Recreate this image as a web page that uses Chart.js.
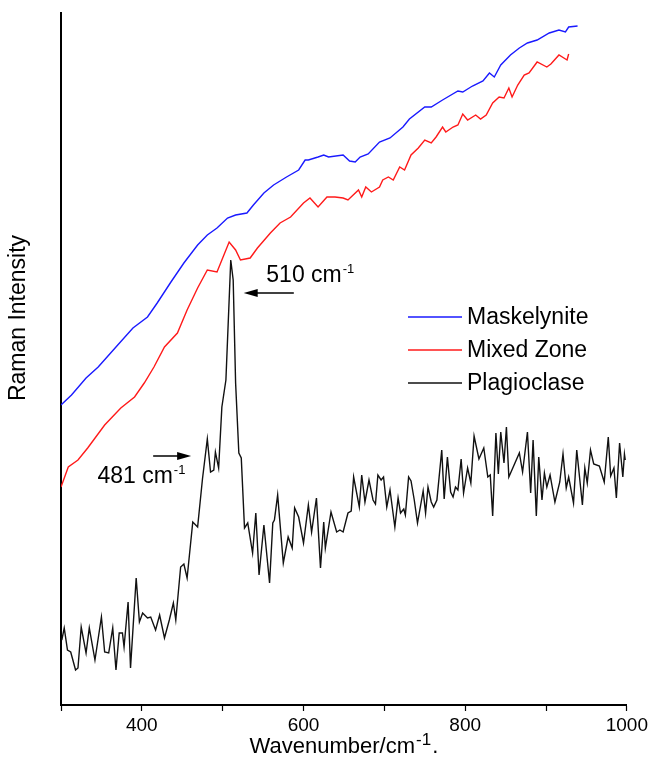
<!DOCTYPE html>
<html>
<head>
<meta charset="utf-8">
<title>Raman spectra</title>
<script src="https://cdn.jsdelivr.net/npm/chart.js@4.4.1/dist/chart.umd.min.js"></script>
<style>
  html, body { margin: 0; padding: 0; background: #fff; }
  #wrap { width: 651px; height: 774px; }
</style>
</head>
<body>
<div id="wrap"><canvas id="ramanChart" width="651" height="774"></canvas></div>
<script>
// Spectra (wavenumber in cm-1, intensity in arbitrary units)
const maskWn = [300, 313, 331, 346, 368, 389, 407, 419, 436, 452, 469, 481, 493, 506, 516, 530, 538, 551, 563, 579, 594, 602, 606, 618, 625, 631, 649, 657, 664, 670, 680, 694, 707, 723, 731, 750, 758, 772, 791, 797, 809, 822, 830, 836, 844, 856, 867, 877, 889, 904, 916, 924, 928, 939]
const maskInt = [300, 310, 327, 338, 358, 377, 388, 402, 423, 442, 460, 470, 477, 487, 490, 492, 500, 512, 520, 528, 535, 545, 545, 548, 550, 548, 550, 544, 543, 548, 551, 563, 567, 578, 586, 598, 598, 605, 614, 613, 619, 624, 632, 628, 640, 650, 657, 662, 665, 672, 675, 673, 678, 679]

const mixedWn = [300, 309, 321, 333, 354, 374, 391, 403, 415, 428, 444, 456, 469, 481, 493, 499, 508, 516, 522, 534, 543, 559, 571, 584, 600, 608, 618, 629, 639, 649, 655, 668, 672, 677, 684, 694, 698, 705, 711, 719, 725, 733, 742, 750, 758, 764, 772, 776, 785, 791, 797, 803, 813, 819, 826, 834, 842, 848, 854, 858, 865, 873, 879, 889, 901, 906, 916, 926, 928]
const mixedInt = [218, 238, 245, 257, 280, 297, 308, 322, 338, 358, 372, 395, 417, 435, 433, 445, 463, 455, 445, 447, 457, 472, 482, 488, 502, 507, 498, 508, 508, 507, 505, 515, 508, 518, 513, 518, 525, 528, 525, 538, 535, 550, 557, 565, 562, 568, 578, 573, 578, 580, 591, 585, 590, 586, 590, 602, 608, 607, 617, 608, 620, 630, 632, 643, 638, 641, 650, 645, 651]

const plagWn = [301, 304, 308, 312, 318, 321, 325, 331, 335, 342, 350, 354, 359, 364, 368, 372, 376, 378, 383, 386, 393, 397, 401, 407, 411, 417, 422, 428, 434, 439, 442, 448, 452, 456, 463, 469, 475, 481, 485, 489, 491, 495, 499, 504, 510, 513, 516, 520, 523, 527, 531, 537, 541, 545, 551, 558, 562, 564, 568, 575, 581, 586, 589, 594, 600, 606, 610, 616, 621, 625, 627, 634, 641, 645, 649, 655, 659, 662, 669, 672, 676, 681, 686, 689, 692, 696, 699, 703, 707, 713, 717, 720, 724, 726, 730, 733, 737, 741, 748, 751, 754, 758, 761, 765, 771, 774, 778, 782, 785, 788, 791, 795, 798, 803, 807, 811, 817, 823, 828, 831, 834, 838, 841, 844, 848, 851, 854, 867, 871, 877, 881, 884, 888, 891, 895, 898, 901, 905, 911, 917, 921, 925, 928, 934, 938, 945, 948, 951, 955, 959, 966, 972, 977, 980, 984, 987, 991, 995, 997, 998]
const plagInt = [65, 77, 55, 53, 35, 37, 78, 52, 77, 45, 88, 53, 52, 77, 35, 72, 72, 58, 103, 37, 127, 83, 92, 87, 88, 75, 90, 67, 85, 102, 85, 138, 141, 127, 183, 178, 226, 266, 233, 235, 253, 237, 298, 325, 445, 425, 322, 252, 247, 177, 182, 152, 192, 130, 180, 122, 182, 185, 210, 142, 168, 157, 197, 188, 162, 200, 173, 207, 137, 183, 157, 193, 173, 175, 173, 192, 194, 228, 198, 230, 203, 225, 205, 201, 230, 225, 228, 198, 215, 178, 207, 192, 196, 190, 228, 224, 205, 182, 214, 192, 218, 203, 198, 205, 255, 206, 248, 213, 208, 218, 215, 246, 212, 237, 222, 269, 246, 257, 228, 230, 189, 272, 231, 273, 242, 278, 228, 252, 233, 273, 212, 265, 189, 248, 205, 232, 218, 230, 203, 223, 251, 217, 228, 202, 255, 200, 237, 222, 255, 241, 239, 223, 268, 229, 237, 207, 262, 228, 251, 245]

const seriesNames = ["Maskelynite", "Mixed Zone", "Plagioclase"]
const xTickLabels = [400, 600, 800, 1000]

const FONT = "'Liberation Sans', Arial, sans-serif"

function toPoints(xs, ys) {
  return xs.map((x, i) => ({ x: x, y: ys[i] }))
}

// text with a raised "-1"
function drawSupText(ctx, x, y, base, sup, size, supSize, supRise) {
  ctx.font = size + "px " + FONT
  ctx.textAlign = "left"
  ctx.textBaseline = "alphabetic"
  ctx.fillText(base, x, y)
  const w = ctx.measureText(base).width
  ctx.font = supSize + "px " + FONT
  ctx.fillText(sup, x + w + 1, y - supRise)
  return w + 1 + ctx.measureText(sup).width
}

function arrow(ctx, x1, y, x2) {
  // shaft from x1 to x2, head at x2
  const dir = x2 > x1 ? 1 : -1
  ctx.beginPath()
  ctx.moveTo(x1, y)
  ctx.lineTo(x2 - dir * 10, y)
  ctx.lineWidth = 1.5
  ctx.strokeStyle = "#000"
  ctx.stroke()
  ctx.beginPath()
  ctx.moveTo(x2, y)
  ctx.lineTo(x2 - dir * 14, y - 4)
  ctx.lineTo(x2 - dir * 14, y + 4)
  ctx.closePath()
  ctx.fillStyle = "#000"
  ctx.fill()
}

const decorations = {
  id: "decorations",
  afterDraw(chart) {
    const ctx = chart.ctx
    const xs = chart.scales.x
    const ys = chart.scales.y
    const area = chart.chartArea
    ctx.save()
    ctx.fillStyle = "#000"

    // peak labels
    drawSupText(ctx, xs.getPixelForValue(554), ys.getPixelForValue(423), "510 cm", "-1", 23, 13, 9)
    arrow(ctx, xs.getPixelForValue(588), ys.getPixelForValue(412), xs.getPixelForValue(526))
    ctx.fillStyle = "#000"
    drawSupText(ctx, xs.getPixelForValue(345), ys.getPixelForValue(222), "481 cm", "-1", 23, 13, 9)
    arrow(ctx, xs.getPixelForValue(414), ys.getPixelForValue(249), xs.getPixelForValue(461))

    // legend
    chart.data.datasets.forEach((ds, i) => {
      const ly = area.top + 304 + i * 33
      ctx.beginPath()
      ctx.moveTo(area.left + 347, ly)
      ctx.lineTo(area.left + 401, ly)
      ctx.lineWidth = 1.5
      ctx.strokeStyle = ds.borderColor
      ctx.stroke()
      ctx.fillStyle = "#000"
      ctx.font = "23px " + FONT
      ctx.textAlign = "left"
      ctx.textBaseline = "middle"
      ctx.fillText(ds.label, area.left + 406, ly + 1)
    })

    // x axis title
    ctx.fillStyle = "#000"
    ctx.font = "22px " + FONT
    const t1 = "Wavenumber/cm"
    const w1 = ctx.measureText(t1).width
    ctx.font = "17px " + FONT
    const w2 = ctx.measureText("-1").width
    ctx.font = "22px " + FONT
    const w3 = ctx.measureText(".").width
    let tx = (area.left + area.right) / 2 - (w1 + w2 + w3 + 2) / 2
    const ty = 753
    const used = drawSupText(ctx, tx, ty, t1, "-1", 22, 17, 8)
    ctx.font = "22px " + FONT
    ctx.fillText(".", tx + used + 1, ty)

    // y axis title
    ctx.translate(19, 318)
    ctx.rotate(-Math.PI / 2)
    ctx.font = "23px " + FONT
    ctx.textAlign = "center"
    ctx.textBaseline = "middle"
    ctx.fillText("Raman Intensity", 0, 0)
    ctx.restore()
  }
}

const ctx = document.getElementById("ramanChart").getContext("2d")
new Chart(ctx, {
  type: "line",
  data: {
    datasets: [
      {
        label: seriesNames[0],
        data: toPoints(maskWn, maskInt),
        borderColor: "#1a1aff",
        borderWidth: 1.4,
        pointRadius: 0,
        tension: 0,
      },
      {
        label: seriesNames[1],
        data: toPoints(mixedWn, mixedInt),
        borderColor: "#ff1a1a",
        borderWidth: 1.4,
        pointRadius: 0,
        tension: 0,
      },
      {
        label: seriesNames[2],
        data: toPoints(plagWn, plagInt),
        borderColor: "#111111",
        borderWidth: 1.4,
        pointRadius: 0,
        tension: 0,
      },
    ],
  },
  options: {
    responsive: false,
    animation: false,
    devicePixelRatio: 1,
    layout: { padding: { left: 0, top: 13, right: 21, bottom: 0 } },
    plugins: {
      legend: { display: false },
      tooltip: { enabled: false },
    },
    scales: {
      x: {
        type: "linear",
        min: 300,
        max: 1000,
        afterFit(scale) {
          scale.height = 69
        },
        ticks: {
          stepSize: 100,
          autoSkip: false,
          maxRotation: 0,
          padding: 3,
          color: "#000",
          font: { family: FONT, size: 19 },
          callback: (v) => (xTickLabels.includes(v) ? String(v) : ""),
        },
        grid: {
          display: true,
          drawOnChartArea: false,
          drawTicks: true,
          tickLength: 6,
          tickWidth: 1.2,
          tickColor: "#000",
        },
        border: { display: true, color: "#000", width: 2 },
      },
      y: {
        type: "linear",
        min: 0,
        max: 692,
        afterFit(scale) {
          scale.width = 61
        },
        ticks: { display: false },
        grid: { display: false },
        border: { display: true, color: "#000", width: 2 },
      },
    },
  },
  plugins: [decorations],
})
</script>
</body>
</html>
